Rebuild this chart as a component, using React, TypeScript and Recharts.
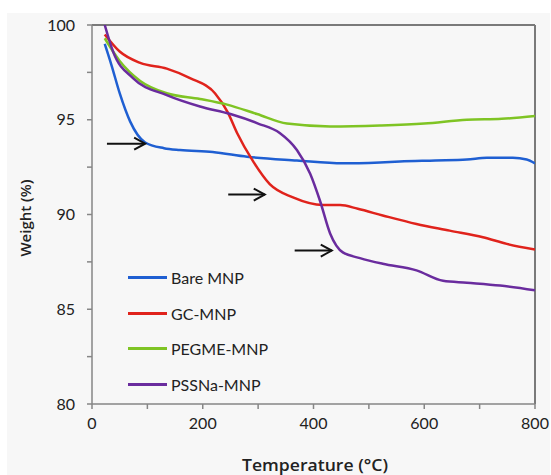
import React from 'react';
import { LineChart, Line, XAxis, YAxis, ReferenceLine } from 'recharts';

// temperature (°C) / weight (%)
const bareT = [23, 35, 50, 69, 96, 130, 159, 218, 280, 370, 453, 520, 556, 620, 677, 713, 760, 785, 800];
const bareW = [99.0, 97.9, 96.4, 94.9, 93.8, 93.5, 93.4, 93.3, 93.05, 92.85, 92.7, 92.75, 92.8, 92.85, 92.9, 93.0, 93.0, 92.9, 92.7];

const gcT = [23, 50, 87, 135, 177, 222, 245, 262, 291, 321, 363, 417, 448, 480, 525, 586, 646, 706, 749, 800];
const gcW = [99.5, 98.6, 98.0, 97.7, 97.2, 96.4, 95.4, 94.3, 92.8, 91.6, 90.9, 90.5, 90.5, 90.3, 89.95, 89.5, 89.15, 88.8, 88.45, 88.15];

const pegT = [23, 50, 87, 135, 195, 244, 298, 352, 430, 520, 600, 677, 740, 800];
const pegW = [99.3, 98.1, 97.05, 96.4, 96.1, 95.8, 95.3, 94.8, 94.65, 94.7, 94.8, 95.0, 95.05, 95.2];

const pssT = [23, 38, 74, 135, 195, 250, 300, 339, 370, 394, 412, 430, 453, 484, 525, 586, 634, 677, 737, 800];
const pssW = [100, 98.6, 97.2, 96.3, 95.7, 95.3, 94.8, 94.3, 93.4, 92.15, 90.7, 89.0, 88.0, 87.7, 87.4, 87.05, 86.5, 86.4, 86.25, 86.0];

// annotation arrows: [startT, endT, weight]
const arrows = [
  [27, 96, 93.74],
  [246, 312, 91.05],
  [366, 433, 88.1],
];

const xTicks = [0, 100, 200, 300, 400, 500, 600, 700, 800];
const yTicks = [80, 82.5, 85, 87.5, 90, 92.5, 95, 97.5, 100];

const series = [
  { name: 'Bare MNP', t: bareT, w: bareW, color: '#1f5fd2' },
  { name: 'GC-MNP', t: gcT, w: gcW, color: '#e0231c' },
  { name: 'PEGME-MNP', t: pegT, w: pegW, color: '#7fc424' },
  { name: 'PSSNa-MNP', t: pssT, w: pssW, color: '#6a2c9e' },
];

const toRows = (t: number[], w: number[]) => t.map((v, i) => ({ t: v, w: w[i] }));

const font = 'Lato, "Open Sans", sans-serif';
const titleFont = '"Open Sans", Lato, sans-serif';
const axisGray = '#868686';

const ArrowHead = (props: any) => {
  const { cx, cy, index } = props;
  if (index !== 1 || cx == null) return <g key={`ah-${index}`} />;
  return (
    <path
      key={`ah-${index}`}
      d={`M${cx - 11},${cy - 6} L${cx},${cy} L${cx - 11},${cy + 6}`}
      fill="none"
      stroke="#111"
      strokeWidth={2}
    />
  );
};

export default function App() {
  return (
    <div style={{ position: 'absolute', left: 0, top: 0, width: 551, height: 475, background: '#fff', fontFamily: font }}>
      <div style={{ position: 'absolute', left: 7, top: 13, width: 543, height: 462, background: '#f7f7f7' }} />
      <div style={{ position: 'absolute', left: 0, top: 0 }}>
        <LineChart width={551} height={475} margin={{ top: 25, right: 16, bottom: 41, left: 12 }}>
          <XAxis
            type="number"
            dataKey="t"
            domain={[0, 800]}
            ticks={xTicks}
            allowDataOverflow
            tickFormatter={(v: number) => (v % 200 === 0 ? String(v) : '')}
            tick={{ fill: '#222', fontSize: 16, fontFamily: font }}
            stroke={axisGray}
            strokeWidth={1.5}
            tickSize={5}
            tickMargin={9}
            height={30}
            label={{
              content: () => (
                <text
                  x={242}
                  y={471}
                  textLength={146}
                  lengthAdjust="spacingAndGlyphs"
                  fontSize={17}
                  fontWeight={600}
                  fill="#222"
                  fontFamily={titleFont}
                >
                  Temperature (°C)
                </text>
              ),
            }}
          />
          <YAxis
            type="number"
            domain={[80, 100]}
            ticks={yTicks}
            allowDataOverflow
            tickFormatter={(v: number) => (v % 5 === 0 ? String(v) : '')}
            tick={{ fill: '#222', fontSize: 16, fontFamily: font }}
            stroke={axisGray}
            strokeWidth={1.5}
            tickSize={5}
            tickMargin={12}
            width={80}
            label={{
              content: () => (
                <text
                  x={31}
                  y={218}
                  transform="rotate(-90 31 218)"
                  textAnchor="middle"
                  fontSize={15}
                  fontWeight={600}
                  fill="#222"
                  fontFamily={titleFont}
                >
                  Weight (%)
                </text>
              ),
            }}
          />
          <ReferenceLine y={100} stroke="#7a7a7a" strokeWidth={2} ifOverflow="visible" />
          <ReferenceLine x={800} stroke="#7a7a7a" strokeWidth={2} ifOverflow="visible" />
          {series.map((s) => (
            <Line
              key={s.name}
              data={toRows(s.t, s.w)}
              dataKey="w"
              type="monotone"
              stroke={s.color}
              strokeWidth={2.5}
              dot={false}
              isAnimationActive={false}
            />
          ))}
          {arrows.map((a, i) => (
            <Line
              key={`arrow-${i}`}
              data={[{ t: a[0], w: a[2] }, { t: a[1], w: a[2] }]}
              dataKey="w"
              type="linear"
              stroke="#111"
              strokeWidth={2}
              dot={ArrowHead}
              activeDot={false}
              isAnimationActive={false}
            />
          ))}
        </LineChart>
      </div>
      <div style={{ position: 'absolute', left: 128, top: 260 }}>
        {series.map((s) => (
          <div key={s.name} style={{ display: 'flex', alignItems: 'center', height: 35.5 }}>
            <span style={{ width: 39, height: 3, background: s.color, display: 'inline-block', marginRight: 4 }} />
            <span style={{ fontSize: 16, color: '#222', fontFamily: font }}>{s.name}</span>
          </div>
        ))}
      </div>
    </div>
  );
}
